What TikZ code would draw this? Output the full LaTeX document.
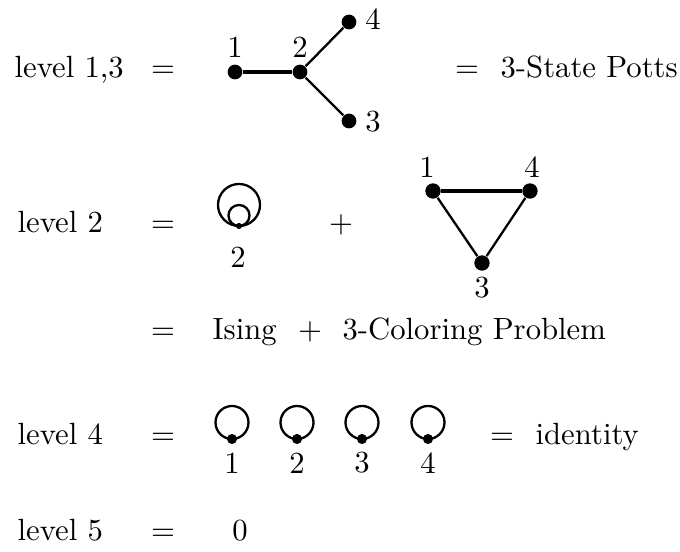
\documentclass[tikz,border=0pt]{standalone}
\begin{document}
\begin{tikzpicture}[x=0.3257pt,y=-0.3257pt,
  dot/.style={circle,fill=black,inner sep=0pt,minimum size=4.8pt},
  bigdot/.style={circle,fill=black,inner sep=0pt,minimum size=5pt},
  loopdot/.style={circle,fill=black,inner sep=0pt,minimum size=3.3pt},
  tinydot/.style={circle,fill=black,inner sep=0pt,minimum size=2pt},
  lbl/.style={inner sep=0pt},
  txt/.style={anchor=base west,inner sep=0pt},
  eq/.style={anchor=base,inner sep=0pt},
  edge/.style={line width=0.75pt},
  hedge/.style={line width=1pt}]
\useasboundingbox (0,0) rectangle (680,552);

% ---------- row 1 ----------
\node[txt] (t1) at (14,78) {level 1,3};
\node[eq] (e1) at (163,78) {$=$};
\node[dot] (a1) at (235,72) {};
\node[dot] (a2) at (300,72) {};
\node[dot] (a4) at (349,22) {};
\node[dot] (a3) at (349,121) {};
\draw[hedge] (a1) -- (a2);
\draw[edge] (a2) -- (a4);
\draw[edge] (a2) -- (a3);
\node[lbl] (la1) at (235,47) {1};
\node[lbl] (la2) at (300,47) {2};
\node[lbl] (la4) at (373,19) {4};
\node[lbl] (la3) at (373,122) {3};
\node[eq] (e1b) at (467,78) {$=$};
\node[txt] (p1) at (500,78) {3-State Potts};

% ---------- row 2 ----------
\node[txt] (t2) at (17,233) {level 2};
\node[eq] (e2) at (163,233) {$=$};
\node[tinydot] (b2) at (239,226) {};
\draw[edge] (b2.center) ++(0,-21) circle[radius=21];
\draw[edge] (b2.center) ++(0,-10.5) circle[radius=10.5];
\node[lbl] (lb2) at (238,257) {2};
\node[eq] (pl2) at (341,233) {$+$};
\node[bigdot] (c1) at (433,191) {};
\node[bigdot] (c4) at (530,191) {};
\node[bigdot] (c3) at (482,263) {};
\draw[hedge] (c1) -- (c4);
\draw[edge] (c1) -- (c3);
\draw[edge] (c4) -- (c3);
\node[lbl] (lc1) at (427,167) {1};
\node[lbl] (lc4) at (532,167) {4};
\node[lbl] (lc3) at (482,288) {3};

% ---------- row 3 ----------
\node[eq] (e3) at (163,340) {$=$};
\node[txt] (i3) at (212,340) {Ising};
\node[eq] (pl3) at (310,340) {$+$};
\node[txt] (c3t) at (342,340) {3-Coloring Problem};

% ---------- row 4 ----------
\node[txt] (t4) at (17,445) {level 4};
\node[eq] (e4) at (163,445) {$=$};
\foreach \n/\x in {1/232,2/297,3/362,4/428}{
  \node[loopdot] (d\n) at (\x,439) {};
  \draw[edge] (d\n.center) ++(0,-16.5) circle[radius=16.5];
  \node[lbl] (ld\n) at (\x,463) {\n};
}
\node[eq] (e4b) at (502,445) {$=$};
\node[txt] (id4) at (535,445) {identity};

% ---------- row 5 ----------
\node[txt] (t5) at (17,541) {level 5};
\node[eq] (e5) at (163,541) {$=$};
\node[eq] (z5) at (240,541) {0};
\end{tikzpicture}
\end{document}
